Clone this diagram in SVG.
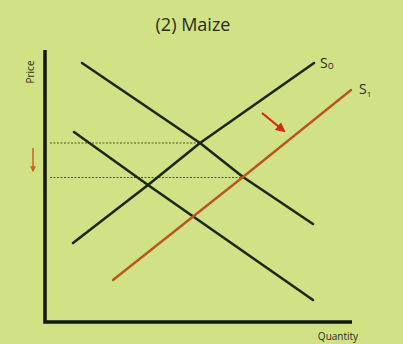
<svg xmlns="http://www.w3.org/2000/svg" width="403" height="344" viewBox="0 0 403 344">
<defs>
<style>
.curve{fill:none;stroke:#1c2812;stroke-width:2.6;stroke-linejoin:round;stroke-linecap:round}
.supply1{fill:none;stroke:#b8561e;stroke-width:2.4;stroke-linejoin:round;stroke-linecap:round}
.axis{fill:none;stroke:#121a0c;stroke-width:3.5}
.dot{fill:none;stroke:#4a5a20;stroke-width:1.2;stroke-dasharray:2 1.5}
.lbl{font-family:"Open Sans","Liberation Sans",sans-serif;fill:#2a2a1a}
</style>
<marker id="ah" viewBox="0 0 10 10" refX="8" refY="5" markerWidth="4.5" markerHeight="4.5" orient="auto"><path d="M0,0 L10,5 L0,10 z" fill="#d42a1a"/></marker>
<marker id="ah2" viewBox="0 0 10 10" refX="8" refY="5" markerWidth="4" markerHeight="4" orient="auto"><path d="M0,0 L10,5 L0,10 z" fill="#c8641e"/></marker>
</defs>
<rect width="403" height="344" fill="#d0e285"/>
<text class="lbl" x="193" y="31" font-size="18" text-anchor="middle">(2) Maize</text>
<g id="axes">
<path class="axis" d="M45,50 V322 H352"/>
<text class="lbl" font-size="10" transform="translate(34,72) rotate(-90)" text-anchor="middle">Price</text>
<text class="lbl" x="338" y="340" font-size="10" text-anchor="middle">Quantity</text>
</g>
<g id="connectors">
<path class="dot" d="M50,143 H200"/>
<path class="dot" d="M50,177.5 H243"/>
<path d="M262,113 L284,131" stroke="#d42a1a" stroke-width="2.2" fill="none" marker-end="url(#ah)"/>
<path d="M33,148 V171" stroke="#c8641e" stroke-width="1.5" fill="none" marker-end="url(#ah2)"/>
</g>
<g id="D0"><polyline class="curve" points="82,63 200,143 243,177 313,224"/></g>
<g id="D1"><polyline class="curve" points="74,132 148,185 313,300"/></g>
<g id="S0">
<polyline class="curve" points="73,243 148,185 200,143 314,63"/>
<text class="lbl" x="320" y="68" font-size="14">S<tspan font-size="10" dy="1">o</tspan></text>
</g>
<g id="S1">
<polyline class="supply1" points="113,280 243,177 351,90"/>
<text class="lbl" x="359" y="94" font-size="14">S<tspan font-size="8" dy="3">1</tspan></text>
</g>
</svg>
